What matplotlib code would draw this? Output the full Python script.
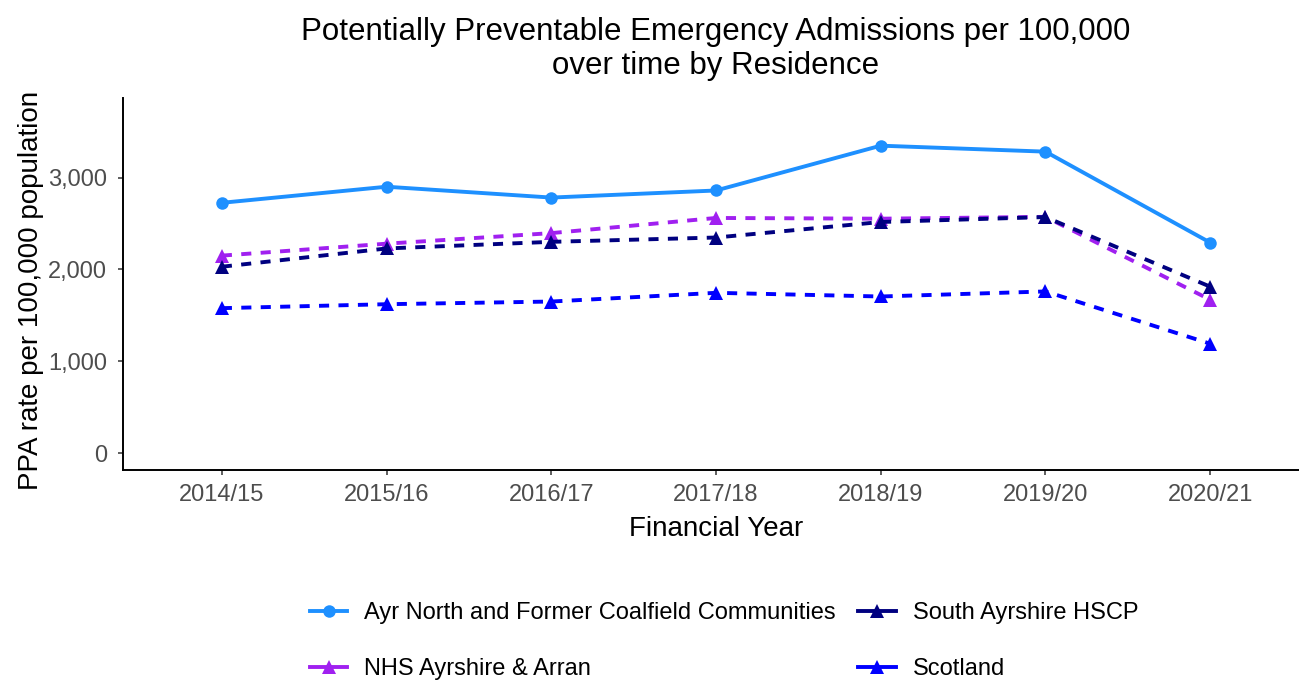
import matplotlib
matplotlib.use("Agg")
import matplotlib.pyplot as plt
from matplotlib.lines import Line2D

years = ["2014/15", "2015/16", "2016/17", "2017/18", "2018/19", "2019/20", "2020/21"]
ayr_north = [2725, 2900, 2782, 2859, 3347, 3282, 2292]
nhs_aa = [2150, 2280, 2395, 2560, 2552, 2572, 1670]
south_ayr = [2029, 2228, 2300, 2347, 2516, 2570, 1812]
scotland = [1578, 1621, 1650, 1745, 1705, 1760, 1191]

series = [
    ("Ayr North and Former Coalfield Communities", ayr_north, "#1E90FF", "o", "-"),
    ("NHS Ayrshire & Arran", nhs_aa, "#A020F0", "^", "--"),
    ("South Ayrshire HSCP", south_ayr, "#000080", "^", "--"),
    ("Scotland", scotland, "#0000FF", "^", "--"),
]

plt.rcParams["font.family"] = ["Liberation Sans", "DejaVu Sans"]
W, H = 1299, 682
fig = plt.figure(figsize=(W / 100, H / 100), dpi=100)
ax = fig.add_axes([123 / W, (H - 470) / H, (1309 - 123) / W, (470 - 98) / H])

x = list(range(len(years)))
for name, vals, col, mk, ls in series:
    kw = dict(color=col, lw=2.8, marker=mk, markersize=9 if mk == "o" else 10,
              markeredgewidth=0, label=name)
    if ls == "--":
        ax.plot(x, vals, dashes=(2.6, 2.4), **kw)
    else:
        ax.plot(x, vals, **kw)

ax.set_xlim(-0.6, len(years) - 1 + 0.6)
ax.set_ylim(-184, 3866)
ax.set_xticks(x)
ax.set_xticklabels(years)
ax.set_yticks([0, 1000, 2000, 3000])
ax.set_yticklabels(["0", "1,000", "2,000", "3,000"])
for s in ["top", "right"]:
    ax.spines[s].set_visible(False)
for s in ["left", "bottom"]:
    ax.spines[s].set_linewidth(1.4)
ax.tick_params(axis="both", length=3.5, width=1.1, color="#333333",
               labelcolor="#4D4D4D", labelsize=17)
ax.tick_params(axis="x", pad=6.5)
ax.tick_params(axis="y", pad=8)

ax.set_xlabel("Financial Year", fontsize=20, color="black")
ax.xaxis.set_label_coords((716 - 123) / (1309 - 123), -(529 - 470) / (470 - 98))
ax.xaxis.label.set_va("center")
ax.set_ylabel("PPA rate per 100,000 population", fontsize=20, color="black")
ax.yaxis.set_label_coords(-(123 - 31) / (1309 - 123), (470 - 290) / (470 - 98))
ax.yaxis.label.set_va("center")

fig.text(716 / W, 1 - 49 / H,
         "Potentially Preventable Emergency Admissions per 100,000\nover time by Residence",
         fontsize=22.5, color="black", ha="center", va="center", linespacing=1.17)

leg_handles = []
for name, vals, col, mk, ls in series:
    h = Line2D([], [], color=col, lw=2.8, marker=mk,
               markersize=9 if mk == "o" else 10, markeredgewidth=0)
    leg_handles.append(h)

fig.legend(leg_handles, [s[0] for s in series], ncol=2, loc="center",
           bbox_to_anchor=(724 / W, 1 - 641 / H), frameon=False, fontsize=17,
           handlelength=1.6, handletextpad=0.72, columnspacing=0.93, labelspacing=1.45,
           borderpad=0)

fig.savefig("out.png", dpi=100)
